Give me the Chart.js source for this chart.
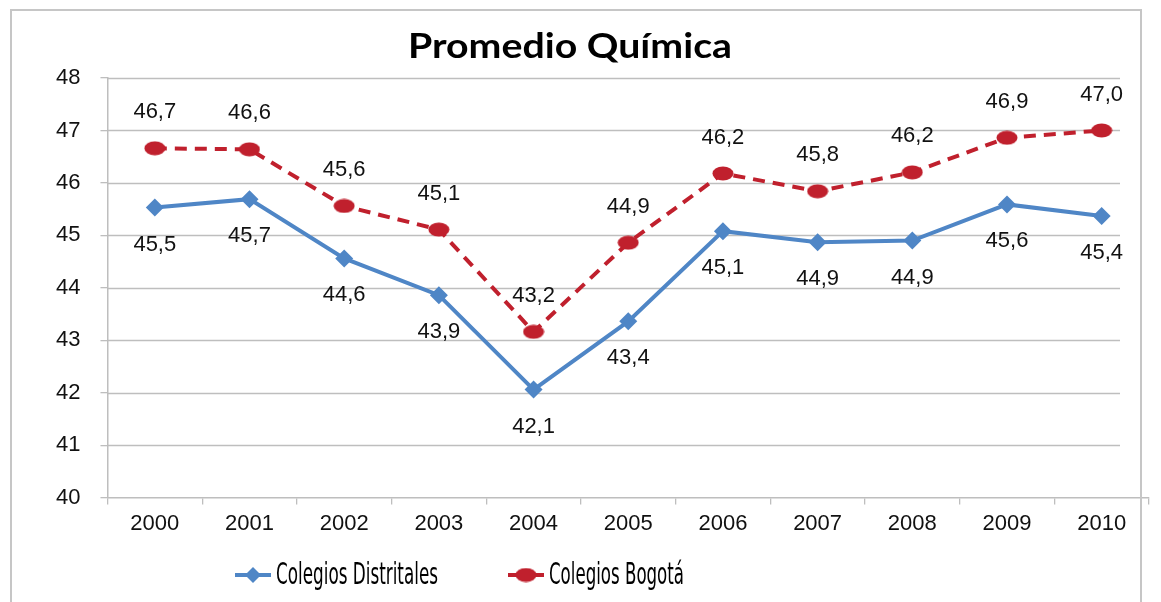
<!DOCTYPE html>
<html>
<head>
<meta charset="utf-8">
<script src="https://cdn.jsdelivr.net/npm/chart.js@4/dist/chart.umd.min.js"></script>
<style>
  html, body { margin: 0; padding: 0; background: #fff; }
  #wrap { position: relative; width: 1161px; height: 602px; overflow: hidden; }
  #frame { position: absolute; left: 10px; top: 9px; width: 1132px; height: 700px;
           border: 2px solid #C6C6C6; box-sizing: border-box; pointer-events: none; }
  canvas { position: absolute; left: 0; top: 0; }
</style>
</head>
<body>
<div id="wrap">
  <canvas id="c" width="1161" height="602"></canvas>
  <div id="frame"></div>
</div>
<script>
// ---- data ----
const categories = ['2000','2001','2002','2003','2004','2005','2006','2007','2008','2009','2010'];
const distritales = [45.53, 45.69, 44.56, 43.86, 42.06, 43.36, 45.08, 44.87, 44.90, 45.59, 45.37];
const bogota      = [46.66, 46.64, 45.56, 45.11, 43.16, 44.86, 46.18, 45.84, 46.20, 46.86, 47.00];
const seriesNames = ['Colegios Distritales', 'Colegios Bogotá'];
const yTicks = [40, 41, 42, 43, 44, 45, 46, 47, 48];
const chartTitle = 'Promedio Química';

// ---- styles ----
const BLUE = '#4F86C6';
const RED = '#C0202D';
const GRID = '#BEBEBE';
const FONT = "'Liberation Sans', Arial, sans-serif";
const NARROW = "'Liberation Sans Narrow', 'DejaVu Sans Condensed', 'Liberation Sans', sans-serif";

function ellipseImage(w, h, color) {
  const c = document.createElement('canvas');
  c.width = w; c.height = h;
  const x = c.getContext('2d');
  x.fillStyle = color;
  x.beginPath();
  x.ellipse(w / 2, h / 2, w / 2 - 0.5, h / 2 - 0.5, 0, 0, Math.PI * 2);
  x.fill();
  return c;
}
const redDot = ellipseImage(22, 15, RED);

const fmt = v => v.toFixed(1).replace('.', ',');

function fitText(ctx, text, x, y, targetW) {
  const w = ctx.measureText(text).width;
  const s = targetW / w;
  ctx.save();
  ctx.translate(x, y);
  ctx.scale(s, 1);
  ctx.fillText(text, 0, 0);
  ctx.restore();
}

const gridPlugin = {
  id: 'gridLines',
  beforeDatasetsDraw(chart) {
    const {ctx, chartArea, scales} = chart;
    const y = scales.y;
    ctx.save();
    ctx.strokeStyle = GRID;
    ctx.lineWidth = 1.3;
    y.ticks.forEach(t => {
      if (t.value === y.min) return;
      const py = Math.round(y.getPixelForValue(t.value)) + 0.5;
      ctx.beginPath();
      ctx.moveTo(chartArea.left, py);
      ctx.lineTo(1120, py);
      ctx.stroke();
    });
    ctx.restore();
  }
};

const labelPlugin = {
  id: 'valueLabels',
  afterDatasetsDraw(chart) {
    const {ctx} = chart;
    ctx.save();
    ctx.font = '22px ' + FONT;
    ctx.fillStyle = '#111';
    ctx.textAlign = 'center';
    ctx.textBaseline = 'middle';
    chart.data.datasets.forEach((ds, di) => {
      const meta = chart.getDatasetMeta(di);
      const dy = di === 1 ? -36 : 37;
      meta.data.forEach((pt, i) => {
        ctx.fillText(fmt(ds.data[i]), pt.x, pt.y + dy);
      });
    });
    ctx.restore();
  }
};

const titleLegendPlugin = {
  id: 'titleLegend',
  afterDraw(chart) {
    const {ctx} = chart;
    ctx.save();
    // title
    ctx.font = "bold 35px 'Lato', 'Liberation Sans', sans-serif";
    ctx.fillStyle = '#000';
    ctx.textAlign = 'center';
    ctx.textBaseline = 'alphabetic';
    fitText(ctx, chartTitle, 570, 58, 324);
    // legend
    const ly = 575;
    const items = [
      {x: 235, color: BLUE, marker: 'diamond', text: seriesNames[0], w: 162},
      {x: 508, color: RED, marker: 'ellipse', text: seriesNames[1], w: 135}
    ];
    items.forEach(it => {
      ctx.strokeStyle = it.color;
      ctx.lineWidth = 4;
      ctx.beginPath();
      ctx.moveTo(it.x, ly);
      ctx.lineTo(it.x + 36, ly);
      ctx.stroke();
      ctx.fillStyle = it.color;
      const cx = it.x + 18;
      if (it.marker === 'diamond') {
        ctx.beginPath();
        ctx.moveTo(cx, ly - 8); ctx.lineTo(cx + 8, ly); ctx.lineTo(cx, ly + 8); ctx.lineTo(cx - 8, ly);
        ctx.closePath(); ctx.fill();
      } else {
        ctx.drawImage(redDot, cx - 11, ly - 7.5);
      }
      ctx.font = '30px ' + NARROW;
      ctx.fillStyle = '#000';
      ctx.textAlign = 'left';
      ctx.textBaseline = 'middle';
      fitText(ctx, it.text, it.x + 41, ly + 1, it.w);
    });
    ctx.restore();
  }
};

new Chart(document.getElementById('c'), {
  type: 'line',
  data: {
    labels: categories,
    datasets: [
      {
        label: seriesNames[0],
        data: distritales,
        borderColor: BLUE,
        backgroundColor: BLUE,
        borderWidth: 4,
        pointStyle: 'rectRot',
        pointRadius: 9,
        pointBorderWidth: 0,
        pointBackgroundColor: BLUE,
        tension: 0
      },
      {
        label: seriesNames[1],
        data: bogota,
        borderColor: RED,
        backgroundColor: RED,
        borderWidth: 4,
        borderDash: [12, 8],
        pointStyle: redDot,
        pointRadius: 8,
        tension: 0
      }
    ]
  },
  options: {
    responsive: false,
    animation: false,
    events: [],
    layout: { padding: { left: 36, top: 78, right: 0, bottom: 59 } },
    plugins: { legend: { display: false }, title: { display: false }, tooltip: { enabled: false } },
    scales: {
      x: {
        offset: true,
        grid: { offset: true, drawOnChartArea: false, drawTicks: true, tickLength: 7, color: GRID, lineWidth: 1.3 },
        border: { color: GRID, width: 1.5 },
        ticks: { font: { size: 22, family: FONT }, color: '#111', padding: 6, maxRotation: 0, autoSkip: false }
      },
      y: {
        min: yTicks[0],
        max: yTicks[yTicks.length - 1],
        afterBuildTicks: s => { s.ticks = yTicks.map(v => ({ value: v })); },
        grid: { drawOnChartArea: false, drawTicks: true, tickLength: 7, color: GRID, lineWidth: 1.3 },
        border: { color: GRID, width: 1.5 },
        ticks: { font: { size: 22, family: FONT }, color: '#111', padding: 20 }
      }
    }
  },
  plugins: [gridPlugin, labelPlugin, titleLegendPlugin]
});
</script>
</body>
</html>
